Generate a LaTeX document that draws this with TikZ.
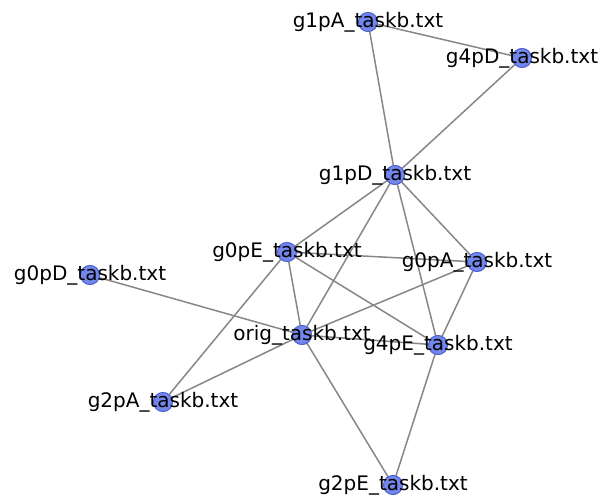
\documentclass[tikz,border=0pt]{standalone}
\usepackage{fontspec}
\setmainfont{DejaVu Sans}
\definecolor{nodefill}{RGB}{115,134,236}
\definecolor{nodeline}{RGB}{75,95,205}
\definecolor{edgecol}{RGB}{135,135,135}
\tikzset{
  vert/.style={circle, fill=nodefill, draw=nodeline, line width=0.8pt, minimum size=19pt, inner sep=0pt},
  lbl/.style={font=\fontsize{20}{20}\selectfont, text=black, inner sep=0pt, anchor=center},
  edge/.style={draw=edgecol, line width=1.5pt}
}
\begin{document}
\begin{tikzpicture}[x=1pt,y=1pt]
\useasboundingbox (0,0) rectangle (599,496);
% vertices
\node[vert] (g1pA) at (368,474) {};
\node[vert] (g4pD) at (522,438) {};
\node[vert] (g1pD) at (395,321) {};
\node[vert] (g0pE) at (287,244) {};
\node[vert] (g0pA) at (477,234) {};
\node[vert] (g0pD) at (90,221) {};
\node[vert] (orig) at (302,161) {};
\node[vert] (g4pE) at (438,151) {};
\node[vert] (g2pA) at (163,94) {};
\node[vert] (g2pE) at (393,11) {};
% edges
\path[edge] (g1pA.center) -- (g4pD.center);
\path[edge] (g1pA.center) -- (g1pD.center);
\path[edge] (g4pD.center) -- (g1pD.center);
\path[edge] (g1pD.center) -- (g0pE.center);
\path[edge] (g1pD.center) -- (orig.center);
\path[edge] (g1pD.center) -- (g0pA.center);
\path[edge] (g1pD.center) -- (g4pE.center);
\path[edge] (g0pE.center) -- (g0pA.center);
\path[edge] (g0pE.center) -- (orig.center);
\path[edge] (g0pE.center) -- (g4pE.center);
\path[edge] (g0pE.center) -- (g2pA.center);
\path[edge] (g0pD.center) -- (orig.center);
\path[edge] (orig.center) -- (g0pA.center);
\path[edge] (orig.center) -- (g4pE.center);
\path[edge] (orig.center) -- (g2pA.center);
\path[edge] (orig.center) -- (g2pE.center);
\path[edge] (g0pA.center) -- (g4pE.center);
\path[edge] (g4pE.center) -- (g2pE.center);
% redraw vertices above the edges
\foreach \v in {g1pA,g4pD,g1pD,g0pE,g0pA,g0pD,orig,g4pE,g2pA,g2pE}
  \node[vert] at (\v.center) {};
% labels
\node[lbl] (t1) at (g1pA) {g1pA\_taskb.txt};
\node[lbl] (t2) at (g4pD) {g4pD\_taskb.txt};
\node[lbl] (t3) at (g1pD) {g1pD\_taskb.txt};
\node[lbl] (t4) at (g0pE) {g0pE\_taskb.txt};
\node[lbl] (t5) at (g0pA) {g0pA\_taskb.txt};
\node[lbl] (t6) at (g0pD) {g0pD\_taskb.txt};
\node[lbl] (t7) at (orig) {orig\_taskb.txt};
\node[lbl] (t8) at (g4pE) {g4pE\_taskb.txt};
\node[lbl] (t9) at (g2pA) {g2pA\_taskb.txt};
\node[lbl] (t10) at (g2pE) {g2pE\_taskb.txt};
\end{tikzpicture}
\end{document}
